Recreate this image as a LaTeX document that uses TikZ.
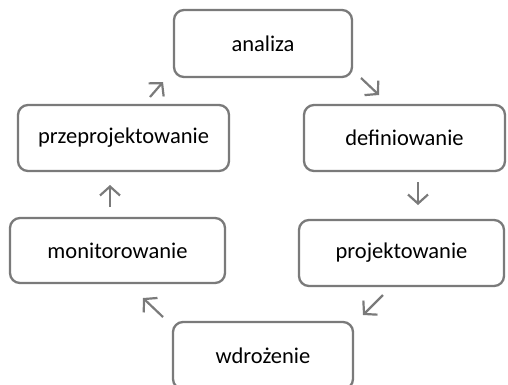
\documentclass[tikz,border=0pt]{standalone}
\usepackage{fontspec}
\setmainfont{Carlito}
\usetikzlibrary{arrows.meta}
\definecolor{edgegray}{HTML}{7A7A7A}
\tikzset{
  stage/.style={draw=edgegray, line width=2.3pt, rounded corners=10pt, fill=white,
    inner sep=0pt, font=\fontsize{22.5}{27}\selectfont, text=black},
  flow/.style={draw=edgegray, line width=2.2pt,
    -{Straight Barb[length=9pt,width=20pt,line width=2.2pt]}},
}
\begin{document}
\begin{tikzpicture}[x=1pt,y=-1pt]
\useasboundingbox (0,0) rectangle (508,384);
\begin{scope}
\clip (0,0) rectangle (508,384);
% the six stages of the cycle
\node[stage, minimum width=178pt, minimum height=67pt] (analiza) at (263,43.5) {analiza};
\node[stage, minimum width=201pt, minimum height=66pt] (def) at (404.5,138) {definiowanie};
\node[stage, minimum width=205pt, minimum height=66pt] (proj) at (401.5,253) {projektowanie};
\node[stage, minimum width=180pt, minimum height=67pt] (wdr) at (263,355.5) {wdrożenie};
\node[stage, minimum width=215pt, minimum height=65pt] (mon) at (117.5,250.5) {monitorowanie};
\node[stage, minimum width=211pt, minimum height=66pt] (prz) at (123.5,138) {przeprojektowanie};
\end{scope}
% end points of the short arrows between stages
\coordinate (a1) at (361,78);  \coordinate (a2) at (379,95);
\coordinate (b1) at (418,182); \coordinate (b2) at (418,205);
\coordinate (c1) at (383,295); \coordinate (c2) at (363,315);
\coordinate (d1) at (163,317); \coordinate (d2) at (143,298);
\coordinate (e1) at (110,207); \coordinate (e2) at (110,185);
\coordinate (f1) at (150,97);  \coordinate (f2) at (163,82);
\draw[flow] (a1) -- (a2);
\draw[flow] (b1) -- (b2);
\draw[flow] (c1) -- (c2);
\draw[flow] (d1) -- (d2);
\draw[flow] (e1) -- (e2);
\draw[flow] (f1) -- (f2);
\end{tikzpicture}
\end{document}
